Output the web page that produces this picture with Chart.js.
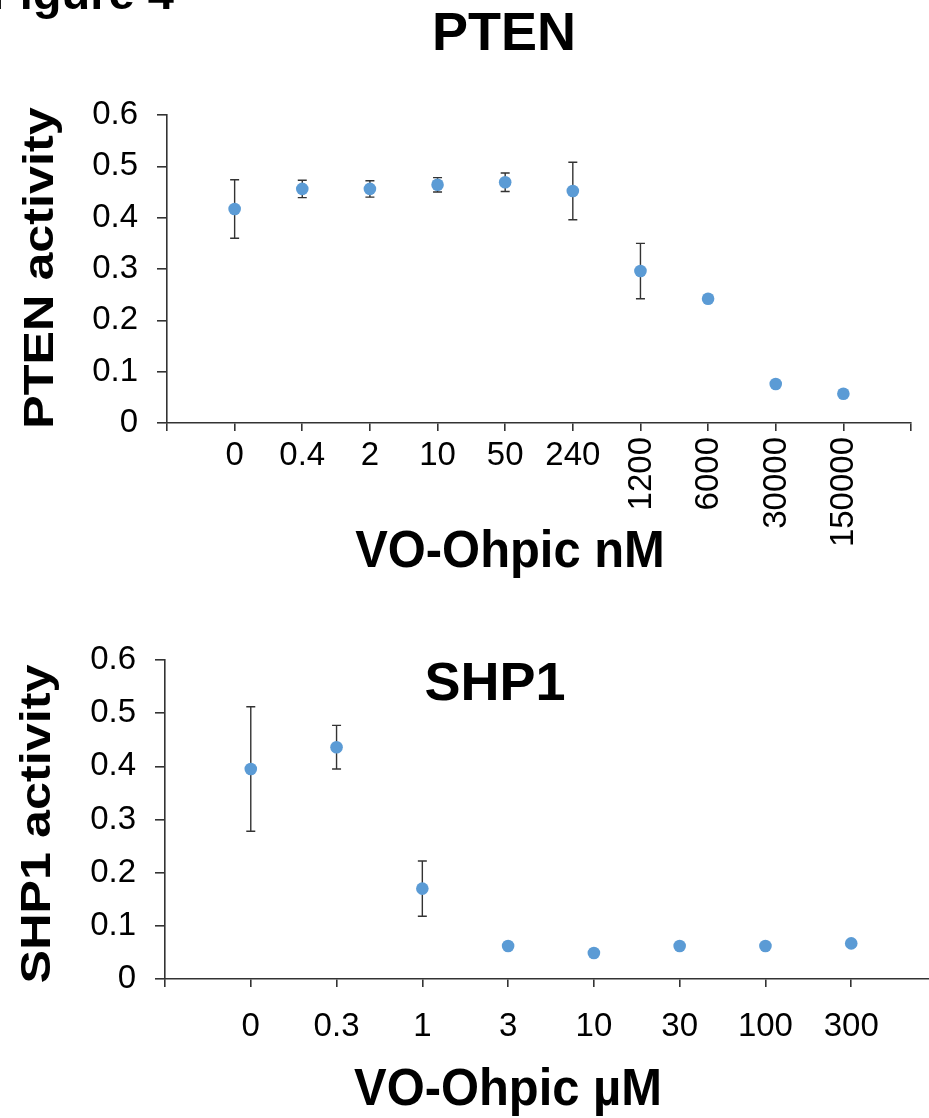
<!DOCTYPE html>
<html>
<head>
<meta charset="utf-8">
<script src="https://cdn.jsdelivr.net/npm/chart.js@4.4.1/dist/chart.umd.min.js"></script>
<style>
  html, body { margin: 0; padding: 0; background: #ffffff; width: 929px; height: 1118px; overflow: hidden; }
  #ptenCanvas { position: absolute; left: 0; top: 0; }
  #shp1Canvas { position: absolute; left: 0; top: 600px; }
</style>
</head>
<body>
<canvas id="ptenCanvas" width="929" height="600"></canvas>
<canvas id="shp1Canvas" width="945" height="518"></canvas>
<script>
// ---------- data ----------
const ptenDoseLabels = ['0', '0.4', '2', '10', '50', '240', '1200', '6000', '30000', '150000'];
const ptenActivity   = [0.417, 0.456, 0.456, 0.464, 0.469, 0.452, 0.296, 0.242, 0.076, 0.057];
const ptenError      = [0.057, 0.017, 0.016, 0.014, 0.018, 0.056, 0.054, 0.005, 0, 0];
const ptenRotatedFrom = 6; // labels from "1200" on are drawn vertically

const shp1DoseLabels = ['0', '0.3', '1', '3', '10', '30', '100', '300'];
const shp1Activity   = [0.395, 0.436, 0.170, 0.062, 0.049, 0.062, 0.062, 0.067];
const shp1Error      = [0.117, 0.041, 0.052, 0, 0, 0, 0, 0];

const yTickMin = 0, yTickMax = 0.6, yTickStep = 0.1;

// ---------- style ----------
const FONT = '"Liberation Sans", Arial, Helvetica, sans-serif';
const POINT_COLOR = '#5B9BD5';
const AXIS_COLOR = '#333333';
const TICK_SIZE = 33;

// ---------- plugins ----------
const errorBars = {
  id: 'errorBars',
  beforeDatasetsDraw(chart) {
    const { ctx, scales: { x, y } } = chart;
    chart.data.datasets.forEach(ds => {
      const err = ds.errors || [];
      ds.data.forEach((p, i) => {
        const e = err[i];
        if (!e) return;
        const px = x.getPixelForValue(p.x);
        const yt = y.getPixelForValue(p.y + e);
        const yb = y.getPixelForValue(p.y - e);
        ctx.save();
        ctx.strokeStyle = '#333333';
        ctx.lineWidth = 1.4;
        ctx.beginPath();
        ctx.moveTo(px, yt); ctx.lineTo(px, yb);
        ctx.moveTo(px - 4.5, yt); ctx.lineTo(px + 4.5, yt);
        ctx.moveTo(px - 4.5, yb); ctx.lineTo(px + 4.5, yb);
        ctx.stroke();
        ctx.restore();
      });
    });
  }
};

const textLayer = {
  id: 'textLayer',
  afterDraw(chart, args, opts) {
    const ctx = chart.ctx;
    (opts.items || []).forEach(t => {
      ctx.save();
      ctx.fillStyle = '#000';
      ctx.font = (t.bold ? 'bold ' : '') + t.size + 'px ' + FONT;
      ctx.textAlign = t.align || 'center';
      ctx.textBaseline = 'alphabetic';
      ctx.translate(t.x, t.y);
      if (t.rotate) ctx.rotate(t.rotate);
      if (t.stretch) ctx.scale(t.stretch, 1);
      ctx.fillText(t.text, 0, 0);
      ctx.restore();
    });
  }
};

const rotatedTicks = {
  id: 'rotatedTicks',
  afterDraw(chart, args, opts) {
    if (!opts.labels) return;
    const { ctx, scales: { x }, chartArea } = chart;
    ctx.save();
    ctx.fillStyle = '#000';
    ctx.font = opts.size + 'px ' + FONT;
    ctx.textAlign = 'right';
    ctx.textBaseline = 'middle';
    for (let i = opts.from; i < opts.labels.length; i++) {
      const px = x.getPixelForValue(i);
      ctx.save();
      ctx.translate(px + 1, chartArea.bottom + opts.offset);
      ctx.rotate(-Math.PI / 2);
      ctx.fillText(opts.labels[i], 0, 0);
      ctx.restore();
    }
    ctx.restore();
  }
};

function makeChart(canvas, cfg) {
  const points = cfg.values.map((v, i) => ({ x: i, y: v }));
  return new Chart(canvas, {
    type: 'scatter',
    data: {
      datasets: [{
        data: points,
        errors: cfg.errors,
        backgroundColor: POINT_COLOR,
        borderWidth: 0,
        pointRadius: 6.3,
        pointHoverRadius: 6.3,
        showLine: false
      }]
    },
    options: {
      responsive: false,
      animation: false,
      events: [],
      layout: { padding: { left: 0, top: cfg.padTop, right: cfg.padRight, bottom: 0 } },
      plugins: {
        legend: { display: false },
        tooltip: { enabled: false },
        title: { display: false },
        textLayer: { items: cfg.texts },
        rotatedTicks: cfg.rotated || {}
      },
      scales: {
        x: {
          type: 'linear',
          min: -1,
          max: cfg.xMax,
          afterFit: s => { s.height = cfg.xHeight; s.paddingLeft = 0; s.paddingRight = 0; },
          border: { display: true, color: AXIS_COLOR, width: 1.6 },
          grid: { display: true, drawOnChartArea: false, drawTicks: true, tickLength: 8, color: AXIS_COLOR, lineWidth: 1.6 },
          ticks: {
            stepSize: 1,
            includeBounds: false,
            autoSkip: false,
            maxRotation: 0,
            minRotation: 0,
            padding: cfg.xTickPad,
            color: '#000',
            font: { family: FONT, size: TICK_SIZE },
            callback: v => (Number.isInteger(v) && v >= 0 && v < cfg.flatCount) ? cfg.labels[v] : ''
          }
        },
        y: {
          type: 'linear',
          min: yTickMin,
          max: yTickMax,
          afterFit: s => { s.width = cfg.yWidth; },
          border: { display: true, color: AXIS_COLOR, width: 1.6 },
          grid: { display: true, drawOnChartArea: false, drawTicks: true, tickLength: 10, color: AXIS_COLOR, lineWidth: 1.6 },
          ticks: {
            stepSize: yTickStep,
            padding: 19,
            color: '#000',
            font: { family: FONT, size: TICK_SIZE },
            callback: v => (Math.abs(v) < 1e-9 ? '0' : Number(v).toFixed(1))
          }
        }
      }
    },
    plugins: [errorBars, textLayer, rotatedTicks]
  });
}

makeChart(document.getElementById('ptenCanvas'), {
  values: ptenActivity,
  errors: ptenError,
  labels: ptenDoseLabels,
  flatCount: ptenRotatedFrom,
  xMax: ptenDoseLabels.length,
  padTop: 115,
  padRight: 18,
  xHeight: 177,
  yWidth: 167,
  xTickPad: 5,
  rotated: { labels: ptenDoseLabels, from: ptenRotatedFrom, size: TICK_SIZE, offset: 14 },
  texts: [
    { text: 'Figure 4', x: -9, y: 9, size: 47, bold: true, align: 'left' },
    { text: 'PTEN', x: 504, y: 50, size: 54, bold: true },
    { text: 'PTEN activity', x: 53, y: 268, size: 43, bold: true, rotate: -Math.PI / 2, stretch: 1.17 },
    { text: 'VO-Ohpic nM', x: 510, y: 567, size: 52, bold: true, stretch: 0.94 }
  ]
});

makeChart(document.getElementById('shp1Canvas'), {
  values: shp1Activity,
  errors: shp1Error,
  labels: shp1DoseLabels,
  flatCount: shp1DoseLabels.length,
  xMax: shp1DoseLabels.length,
  padTop: 60,
  padRight: 8,
  xHeight: 139,
  yWidth: 165,
  xTickPad: 20,
  texts: [
    { text: 'SHP1', x: 495, y: 100, size: 54, bold: true },
    { text: 'SHP1 activity', x: 50, y: 224, size: 43, bold: true, rotate: -Math.PI / 2, stretch: 1.17 },
    { text: 'VO-Ohpic \u00b5M', x: 508, y: 505, size: 52, bold: true, stretch: 0.94 }
  ]
});
</script>
</body>
</html>
